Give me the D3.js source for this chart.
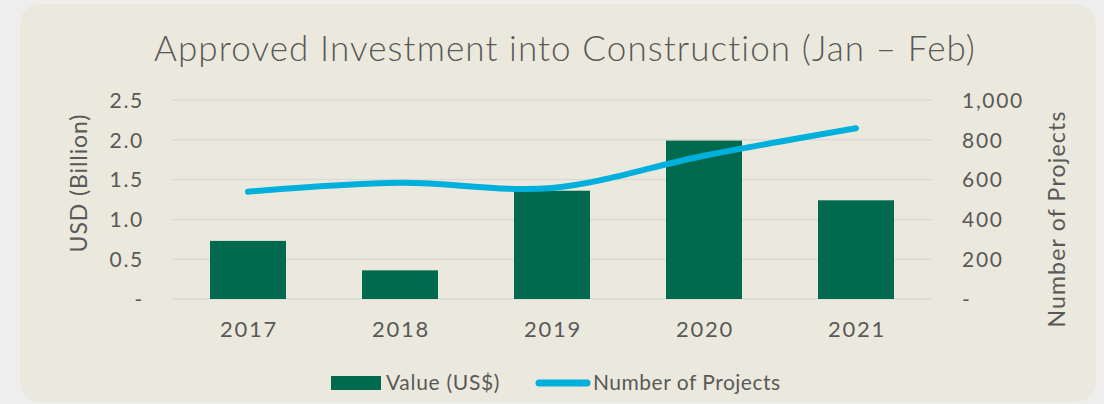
<!DOCTYPE html>
<html>
<head>
<meta charset="utf-8">
<script src="https://cdn.jsdelivr.net/npm/d3@7"></script>
<style>
  html, body { margin: 0; padding: 0; background: #eeeeee; }
  svg { display: block; }
  text { font-family: Lato, "Noto Sans", sans-serif; fill: #595959; font-weight: 400; }
</style>
</head>
<body>
<svg id="chart" width="1104" height="404"></svg>
<script>
const years = ["2017", "2018", "2019", "2020", "2021"];
const values = [0.73, 0.36, 1.36, 1.99, 1.24];
const projects = [539, 584, 558, 720, 858];
const leftTicks = [0, 0.5, 1.0, 1.5, 2.0, 2.5];
const leftTickLabels = ["-", "0.5", "1.0", "1.5", "2.0", "2.5"];
const rightTicks = [0, 200, 400, 600, 800, 1000];
const rightTickLabels = ["-", "200", "400", "600", "800", "1,000"];
const title = "Approved Investment into Construction (Jan \u2013 Feb)";
const leftTitle = "USD (Billion)";
const rightTitle = "Number of Projects";
const legendLabels = ["Value (US$)", "Number of Projects"];

const barColor = "#006a4e";
const lineColor = "#00b0dc";
const gridColor = "#d9d9d9";

const svg = d3.select("#chart");

svg.append("rect").attr("x", 0).attr("y", 0).attr("width", 1104).attr("height", 404).attr("fill", "#eeeeee");
svg.append("rect").attr("x", 20).attr("y", 4).attr("width", 1076).attr("height", 398)
  .attr("rx", 20).attr("ry", 20).attr("fill", "#ebe9dd");

const plot = { left: 172, right: 932, top: 100, bottom: 299 };

const x = d3.scaleBand().domain(years).range([plot.left, plot.right])
  .paddingInner(0.5).paddingOuter(0.25);
const yL = d3.scaleLinear().domain([0, 2.5]).range([plot.bottom, plot.top]);
const yR = d3.scaleLinear().domain([0, 1000]).range([plot.bottom, plot.top]);

svg.append("g").selectAll("line").data(leftTicks).join("line")
  .attr("x1", plot.left).attr("x2", plot.right)
  .attr("y1", d => yL(d)).attr("y2", d => yL(d))
  .attr("stroke", gridColor).attr("stroke-width", 1.5);

const styleTicks = (g, size, ls) => {
  g.select(".domain").remove();
  g.selectAll("text").attr("font-size", size)
    .style("font-family", "Lato, sans-serif").style("font-weight", 400)
    .style("letter-spacing", ls + "px").attr("fill", "#595959");
};

const leftAxis = d3.axisLeft(yL).tickValues(leftTicks)
  .tickFormat((d, i) => leftTickLabels[i]).tickSize(0).tickPadding(0);
const gL = svg.append("g").attr("transform", `translate(144,0)`).call(leftAxis);
styleTicks(gL, 21, 1.7);
gL.selectAll("text").attr("dy", "0.35em");

const rightAxis = d3.axisRight(yR).tickValues(rightTicks)
  .tickFormat((d, i) => rightTickLabels[i]).tickSize(0).tickPadding(0);
const gR = svg.append("g").attr("transform", `translate(962,0)`).call(rightAxis);
styleTicks(gR, 21, 1.7);
gR.selectAll("text").attr("dy", "0.35em");

const xAxis = d3.axisBottom(x).tickSize(0).tickPadding(0);
const gX = svg.append("g").attr("transform", `translate(0,${plot.bottom})`).call(xAxis);
styleTicks(gX, 22, 1.7);
gX.selectAll("text").attr("y", 38).attr("dy", 0).attr("dx", 1);

svg.append("g").selectAll("rect").data(years).join("rect")
  .attr("x", d => x(d)).attr("width", x.bandwidth())
  .attr("y", (d, i) => yL(values[i]))
  .attr("height", (d, i) => yL(0) - yL(values[i]))
  .attr("fill", barColor);

const line = d3.line()
  .x((d, i) => x(years[i]) + x.bandwidth() / 2)
  .y(d => yR(d))
  .curve(d3.curveCatmullRom.alpha(0));
svg.append("path").datum(projects).attr("d", line)
  .attr("fill", "none").attr("stroke", lineColor).attr("stroke-width", 6)
  .attr("stroke-linecap", "round").attr("stroke-linejoin", "round");

svg.append("text").attr("x", 565).attr("y", 61).attr("text-anchor", "middle")
  .attr("font-size", 35).style("font-weight", 300).attr("fill", "#4f4f4f")
  .style("letter-spacing", "1.1px").text(title);

svg.append("text").attr("transform", "translate(87,183) rotate(-90)")
  .attr("text-anchor", "middle").attr("font-size", 23).style("letter-spacing", "0.9px").text(leftTitle);
svg.append("text").attr("transform", "translate(1065,219) rotate(-90)")
  .attr("text-anchor", "middle").attr("font-size", 23).style("letter-spacing", "1.2px").text(rightTitle);

svg.append("rect").attr("x", 331).attr("y", 376).attr("width", 50).attr("height", 14).attr("fill", barColor);
svg.append("text").attr("x", 386).attr("y", 390).attr("font-size", 21).style("letter-spacing", "0.7px").text(legendLabels[0]);
svg.append("line").attr("x1", 539).attr("x2", 587).attr("y1", 383).attr("y2", 383)
  .attr("stroke", lineColor).attr("stroke-width", 7).attr("stroke-linecap", "round");
svg.append("text").attr("x", 593).attr("y", 390).attr("font-size", 21).style("letter-spacing", "0.5px").text(legendLabels[1]);
</script>
</body>
</html>
